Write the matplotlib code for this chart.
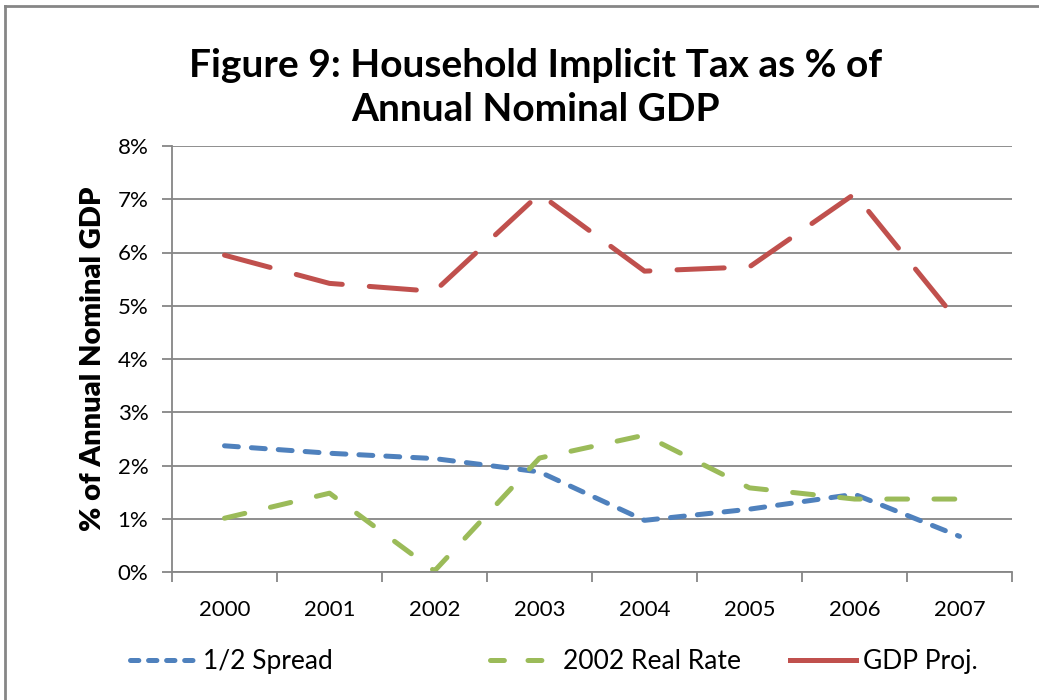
import matplotlib
matplotlib.use("Agg")
import matplotlib.pyplot as plt
from matplotlib.lines import Line2D
import numpy as np

years = ["2000", "2001", "2002", "2003", "2004", "2005", "2006", "2007"]
half_spread = [2.37, 2.23, 2.13, 1.88, 0.97, 1.18, 1.46, 0.67]
real_rate_2002 = [1.01, 1.48, 0.02, 2.14, 2.57, 1.58, 1.37, 1.37]
gdp_proj = [5.95, 5.42, 5.27, 7.10, 5.65, 5.73, 7.10, 4.67]
y_ticks = [0, 1, 2, 3, 4, 5, 6, 7, 8]

plt.rcParams["font.family"] = ["Lato", "DejaVu Sans"]
plt.rcParams["lines.scale_dashes"] = False

fig = plt.figure(figsize=(10.39, 7.0), dpi=100)
ax = fig.add_axes([172 / 1039, 1 - 572 / 700, 840 / 1039, 426 / 700])

x = np.arange(len(years))
ax.plot(x, half_spread, color="#4F81BD", lw=3.6, dashes=(10, 9.4),
        dash_capstyle="round", label="1/2 Spread")
ax.plot(x, real_rate_2002, color="#9BBB59", lw=3.6, dashes=(15, 19),
        dash_capstyle="round", label="2002 Real Rate")
ax.plot(x, gdp_proj, color="#C0504D", lw=3.6, dashes=(34, 19.5),
        dash_capstyle="round", label="GDP Proj.")

ax.set_xlim(-0.5, len(years) - 0.5)
ax.set_ylim(0, 8)
ax.set_yticks(y_ticks)
ax.set_yticklabels([f"{v}%" for v in y_ticks])
ax.set_xticks(x)
ax.set_xticklabels(years)
ax.set_xticks(np.arange(-0.5, len(years)), minor=True)
ax.tick_params(axis="x", which="major", length=0, pad=20, labelsize=16)
ax.tick_params(axis="x", which="minor", length=7, width=1.3, color="#868686")
ax.tick_params(axis="y", length=7, width=1.3, color="#868686", labelsize=16, pad=10)

ax.yaxis.grid(True, color="#868686", lw=1.3)
ax.set_axisbelow(True)
for s in ["top", "right"]:
    ax.spines[s].set_visible(False)
for s in ["left", "bottom"]:
    ax.spines[s].set_color("#868686")
    ax.spines[s].set_linewidth(1.3)

ax.set_ylabel("% of Annual Nominal GDP", fontsize=21, fontweight="heavy", labelpad=8)
fig.text(0.515, 0.875, "Figure 9: Household Implicit Tax as % of\nAnnual Nominal GDP",
         ha="center", va="center", fontsize=28, fontweight="bold", linespacing=1.3)

# legend entries placed one by one, like the Excel layout
entries = [
    ("1/2 Spread", "#4F81BD", (6, 7), 130),
    ("2002 Real Rate", "#9BBB59", (10, 17), 490),
    ("GDP Proj.", "#C0504D", None, 790),
]
for label, color, dash, left in entries:
    h = Line2D([], [], color=color, lw=3.6, dash_capstyle="round")
    if dash:
        h.set_dashes(dash)
    fig.legend([h], [label], loc="center left", bbox_to_anchor=(left / 1039, 0.055),
               frameon=False, fontsize=19, handlelength=2.5, handletextpad=0.25,
               borderaxespad=0, borderpad=0)

fig.add_artist(Line2D([5 / 1039, 5 / 1039], [0, 1 - 6 / 700], color="#868686", lw=2))
fig.add_artist(Line2D([5 / 1039, 1], [1 - 6 / 700, 1 - 6 / 700], color="#868686", lw=2))

fig.savefig("out.png", dpi=100)
